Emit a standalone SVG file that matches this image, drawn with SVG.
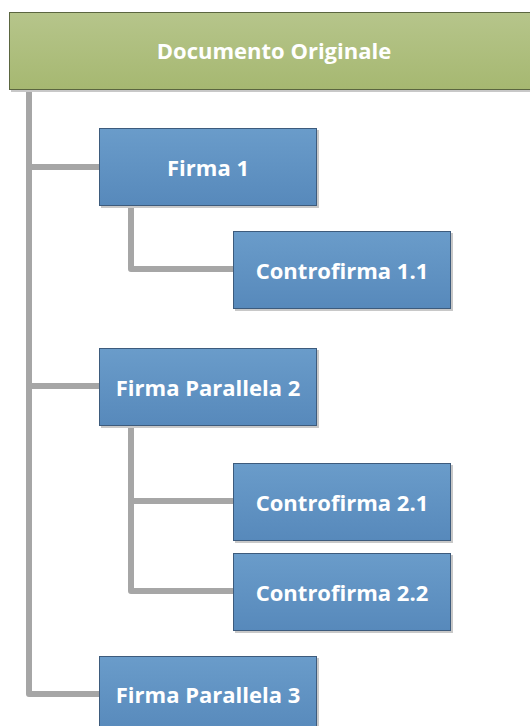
<svg xmlns="http://www.w3.org/2000/svg" width="530" height="726" viewBox="0 0 530 726">
<defs>
<linearGradient id="gBlue" x1="0" y1="0" x2="0" y2="1"><stop offset="0" stop-color="#6a9cca"/><stop offset="1" stop-color="#5789bb"/></linearGradient>
<linearGradient id="gGreen" x1="0" y1="0" x2="0" y2="1"><stop offset="0" stop-color="#b6c58b"/><stop offset="1" stop-color="#a6b871"/></linearGradient>
<style>
.box{fill:url(#gBlue);stroke:#3d5b7c;stroke-width:1}
.root{fill:url(#gGreen);stroke:#5b6640;stroke-width:1}
.sh{fill:#c8c8c8}
.t{font-family:"Open Sans","Liberation Sans",sans-serif;font-weight:bold;font-size:22px;fill:#ffffff;text-anchor:middle;dominant-baseline:central}
.c{fill:none;stroke:#a6a6a6;stroke-width:6;stroke-linejoin:round}
</style>
</defs>
<g id="connectors">
<path class="c" d="M29 89 V694 H99"/>
<path class="c" d="M29 167 H99"/>
<path class="c" d="M29 386 H99"/>
<path class="c" d="M131 205 V269 H233"/>
<path class="c" d="M131 425 V591 H233"/>
<path class="c" d="M131 501 H233"/>
</g>
<g id="root">
<rect class="sh" x="11" y="14" width="530" height="78"/>
<rect class="root" x="9.5" y="12.5" width="530" height="77"/>
<text class="t" x="274" y="50">Documento Originale</text>
</g>
<g id="firma1">
<rect class="sh" x="101" y="130" width="218" height="78"/>
<rect class="box" x="99.5" y="128.5" width="217" height="77"/>
<text class="t" x="208" y="167">Firma 1</text>
</g>
<g id="controfirma11">
<rect class="sh" x="235" y="233" width="218" height="78"/>
<rect class="box" x="233.5" y="231.5" width="217" height="77"/>
<text class="t" x="342" y="270">Controfirma 1.1</text>
</g>
<g id="firma2">
<rect class="sh" x="101" y="350" width="218" height="78"/>
<rect class="box" x="99.5" y="348.5" width="217" height="77"/>
<text class="t" x="208" y="387">Firma Parallela 2</text>
</g>
<g id="controfirma21">
<rect class="sh" x="235" y="465" width="218" height="78"/>
<rect class="box" x="233.5" y="463.5" width="217" height="77"/>
<text class="t" x="342" y="502">Controfirma 2.1</text>
</g>
<g id="controfirma22">
<rect class="sh" x="235" y="555" width="218" height="78"/>
<rect class="box" x="233.5" y="553.5" width="217" height="77"/>
<text class="t" x="342" y="592">Controfirma 2.2</text>
</g>
<g id="firma3">
<rect class="sh" x="101" y="658" width="218" height="78"/>
<rect class="box" x="99.5" y="656.5" width="217" height="77"/>
<text class="t" x="208" y="694">Firma Parallela 3</text>
</g>
</svg>
